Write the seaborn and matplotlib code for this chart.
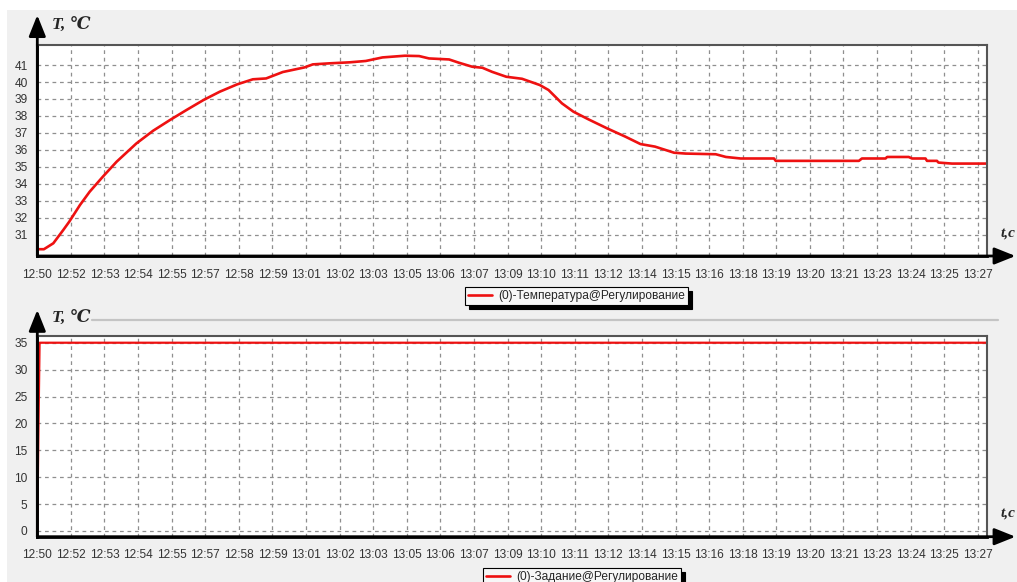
import numpy as np
import pandas as pd
import seaborn as sns
import matplotlib
matplotlib.use("Agg")
import matplotlib.pyplot as plt
from matplotlib.patches import Rectangle
from matplotlib.lines import Line2D
from matplotlib.ticker import FixedLocator, MultipleLocator

# ---- data -------------------------------------------------------------
# elapsed time, minutes since 12:50
temp_minutes = [0.00, 0.26, 0.63, 1.02, 1.26, 1.68, 2.06, 2.58, 3.12, 3.90,
                4.56, 5.22, 5.87, 6.54, 7.18, 7.86, 8.48, 9.00, 9.66, 10.51,
                10.84, 11.48, 12.28, 12.92, 13.58, 14.46, 15.02, 15.41, 16.20,
                16.58, 17.11, 17.51, 17.89, 18.45, 19.07, 19.77, 20.11, 20.64,
                21.09, 21.68, 22.41, 23.13, 23.73, 24.30, 25.05, 25.50, 26.69,
                27.09, 27.67, 28.98, 29.05, 32.32, 32.44, 33.37, 33.43, 34.28,
                34.41, 34.94, 35.00, 35.39, 35.45, 35.98, 37.36]
temperature = [30.14, 30.14, 30.49, 31.27, 31.77, 32.75, 33.53, 34.42, 35.30,
               36.38, 37.13, 37.76, 38.35, 38.94, 39.43, 39.86, 40.16, 40.21,
               40.59, 40.86, 41.04, 41.10, 41.16, 41.24, 41.45, 41.55, 41.53,
               41.39, 41.33, 41.14, 40.90, 40.84, 40.60, 40.31, 40.19, 39.82,
               39.53, 38.74, 38.25, 37.80, 37.27, 36.78, 36.34, 36.19, 35.83,
               35.78, 35.74, 35.58, 35.49, 35.49, 35.35, 35.35, 35.49, 35.49,
               35.58, 35.58, 35.49, 35.49, 35.35, 35.35, 35.25, 35.19, 35.19]

setpoint_minutes = [0.00, 0.04, 0.09, 37.36]
setpoint = [0.0, 17.0, 35.0, 35.0]

time_labels = ["12:50", "12:52", "12:53", "12:54", "12:55", "12:57", "12:58",
               "12:59", "13:01", "13:02", "13:03", "13:05", "13:06", "13:07",
               "13:09", "13:10", "13:11", "13:12", "13:14", "13:15", "13:16",
               "13:18", "13:19", "13:20", "13:21", "13:23", "13:24", "13:25",
               "13:27"]
temp_ticks = list(range(31, 42))
setpoint_ticks = list(range(0, 36, 5))

temp_name = "(0)-Температура@Регулирование"
setpoint_name = "(0)-Задание@Регулирование"

# ---- style ------------------------------------------------------------
sns.set_style("white")
plt.rcParams["font.family"] = ["Liberation Sans", "DejaVu Sans"]

W, H = 1017, 582
fig = plt.figure(figsize=(W / 100, H / 100), dpi=100, facecolor="white")
fig.patches.append(Rectangle((7 / W, 0), 1 - 7 / W, 1 - 10 / H,
                             transform=fig.transFigure, facecolor="#f0f0f0",
                             edgecolor="none", zorder=-10))


def px_box(left, top, right, bottom):
    return [left / W, 1 - bottom / H, (right - left) / W, (bottom - top) / H]


ax_top = fig.add_axes(px_box(37.3, 44.7, 987, 256))
ax_bot = fig.add_axes(px_box(37.3, 336, 987, 536.7))

tick_pos = np.linspace(0, 37, len(time_labels))
xmax = 37.36
serif = ["Liberation Serif", "DejaVu Serif"]


def style_axis(ax, yticks, ylim, arrow_top):
    ax.set_facecolor("white")
    ax.set_xlim(0, xmax)
    ax.set_ylim(*ylim)
    ax.xaxis.set_major_locator(FixedLocator(tick_pos))
    ax.set_xticklabels(time_labels)
    ax.xaxis.set_minor_locator(MultipleLocator(37 / 28 / 5))
    ax.set_yticks(yticks)
    ax.tick_params(axis="both", which="major", labelsize=8.6,
                   labelcolor="#333333", color="#3a3a3a", length=4,
                   width=0.8, direction="out", pad=3)
    ax.tick_params(axis="x", which="minor", length=2.5, width=0.8,
                   color="#3a3a3a", direction="out")
    ax.tick_params(axis="x", which="major", pad=5)
    ax.grid(True, which="major", linestyle=(0, (3, 3)), color="#8f8f8f",
            linewidth=0.9)
    for side in ("top", "right"):
        ax.spines[side].set_color("#555555")
        ax.spines[side].set_linewidth(1.5)
    for side in ("left", "bottom"):
        ax.spines[side].set_color("black")
        ax.spines[side].set_linewidth(2)
    ax.set_xlabel("")
    ax.set_ylabel("")
    # axis arrows
    ax.annotate("", xy=(1.03, 0), xytext=(0, 0), xycoords="axes fraction",
                arrowprops=dict(arrowstyle="-|>,head_length=0.8,head_width=0.32",
                                color="black", lw=2, mutation_scale=16,
                                shrinkA=0, shrinkB=0), annotation_clip=False)
    ax.annotate("", xy=(0, arrow_top), xytext=(0, 0), xycoords="axes fraction",
                arrowprops=dict(arrowstyle="-|>,head_length=0.8,head_width=0.32",
                                color="black", lw=2, mutation_scale=16,
                                shrinkA=0, shrinkB=0), annotation_clip=False)


# ---- temperature panel ------------------------------------------------
df_temp = pd.DataFrame({"minutes": temp_minutes, "temperature": temperature})
sns.lineplot(data=df_temp, x="minutes", y="temperature", ax=ax_top,
             color="#ee1111", linewidth=1.9, estimator=None, sort=False,
             legend=False)
style_axis(ax_top, temp_ticks, (29.74, 42.2), 1.14)

# ---- setpoint panel ---------------------------------------------------
df_set = pd.DataFrame({"minutes": setpoint_minutes, "setpoint": setpoint})
sns.lineplot(data=df_set, x="minutes", y="setpoint", ax=ax_bot,
             color="#ee1111", linewidth=1.6, estimator=None, sort=False,
             legend=False)
style_axis(ax_bot, setpoint_ticks, (-1.06, 36.25), 1.13)

# axis titles
title_kw = dict(family=serif, fontweight="bold", fontstyle="italic",
                va="center", ha="left")
fig.text(52 / W, 1 - 25 / H, "T, ℃", fontsize=12.5, **title_kw)
fig.text(52 / W, 1 - 318 / H, "T, ℃", fontsize=12.5, **title_kw)
fig.text(1001 / W, 1 - 233 / H, "t,с", fontsize=11, **title_kw)
fig.text(1001 / W, 1 - 513 / H, "t,с", fontsize=11, **title_kw)

# separator under the second title
fig.add_artist(Line2D([92 / W, 998 / W], [1 - 320 / H, 1 - 320 / H],
                      transform=fig.transFigure, color="#c4c4c4", lw=1.6))

# legends
legend_kw = dict(loc="upper left", bbox_transform=fig.transFigure,
                 frameon=True, fancybox=False, framealpha=1,
                 edgecolor="black", facecolor="#f7f7f7", fontsize=8.6,
                 borderpad=0.25, handlelength=2.0, handletextpad=0.5,
                 borderaxespad=0,
                 shadow={"ox": 3, "oy": -3, "color": "black", "alpha": 1})
h_top = Line2D([], [], color="#ee1111", lw=1.9)
leg1 = ax_top.legend([h_top], [temp_name],
                     bbox_to_anchor=(465 / W, 1 - 287 / H), **legend_kw)
leg1.get_frame().set_linewidth(0.8)
h_bot = Line2D([], [], color="#ee1111", lw=1.9)
leg2 = ax_bot.legend([h_bot], [setpoint_name],
                     bbox_to_anchor=(483 / W, 1 - 568 / H), **legend_kw)
leg2.get_frame().set_linewidth(0.8)

fig.savefig("out.png", dpi=100, facecolor=fig.get_facecolor())
